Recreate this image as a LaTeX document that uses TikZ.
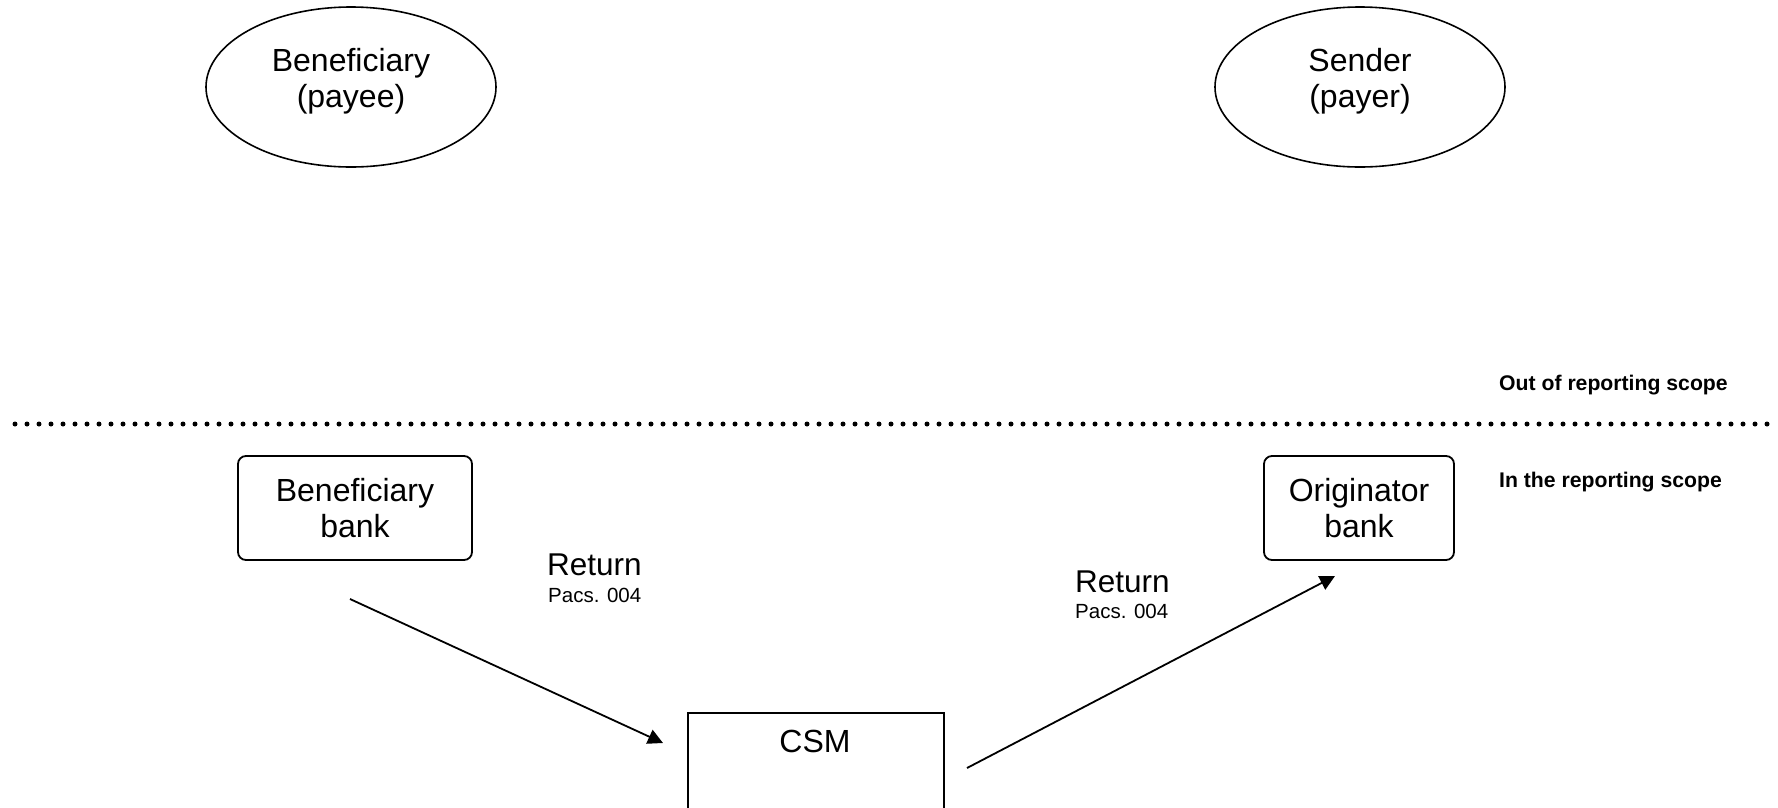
\documentclass[tikz,border=0pt]{standalone}
\usepackage{fontspec}
\setmainfont{Liberation Sans}
\usetikzlibrary{shapes.geometric,arrows.meta}
\begin{document}
\begin{tikzpicture}[x=1pt,y=-1pt,
  ell/.style={draw,ellipse,line width=1.6pt,minimum width=290pt,minimum height=160pt,inner sep=0pt},
  bankbox/.style={draw,rounded corners=8pt,line width=1.8pt,inner sep=0pt,font=\fontsize{32}{36}\selectfont,align=center},
  big/.style={font=\fontsize{32}{36}\selectfont,align=center,inner sep=0pt},
  ret/.style={font=\fontsize{31.5}{36}\selectfont,anchor=base west,inner sep=0pt},
  pacs/.style={font=\fontsize{20.5}{24}\selectfont,anchor=base west,inner sep=0pt},
  scopetxt/.style={font=\bfseries\fontsize{21.2}{25}\selectfont,anchor=base west,inner sep=0pt},
  flow/.style={line width=1.8pt,-{Triangle[length=15pt,width=15pt]}}
]
\useasboundingbox (0,0) rectangle (1778,807);
% ellipses
\node[ell] (ben) at (351,87) {};
\node[big] (bentxt) at (351,81) {Beneficiary\\(payee)};
\node[ell] (snd) at (1360,87) {};
\node[big] (sndtxt) at (1360,81) {Sender\\(payer)};
% scope line
\coordinate (lineL) at (15,424);
\coordinate (lineR) at (1778,424);
\draw[line width=5pt,line cap=round,dash pattern=on 0pt off 12pt] (lineL) -- (lineR);
\node[scopetxt] (outscope) at (1499,390) {Out of reporting scope};
\node[scopetxt] (inscope) at (1499,487) {In the reporting scope};
% banks
\node[bankbox,minimum width=234pt,minimum height=104pt] (bbank) at (355,508) {Beneficiary\\bank};
\node[bankbox,minimum width=190pt,minimum height=104pt] (obank) at (1359,508) {Originator\\bank};
% CSM
\node[draw,line width=1.8pt,minimum width=256pt,minimum height=130pt,anchor=north west,inner sep=0pt] (csm) at (687,712) {};
\node[big,anchor=base] (csmtxt) at (815,752) {CSM};
% arrows
\coordinate (a1s) at (350,599);
\coordinate (a1e) at (663,743);
\draw[flow] (a1s) -- (a1e);
\coordinate (a2s) at (967,768);
\coordinate (a2e) at (1335,576);
\draw[flow] (a2s) -- (a2e);
% labels
\node[ret] (ret1) at (547,575) {Return};
\node[pacs] (pacs1) at (548,602) {Pacs. 004};
\node[ret] (ret2) at (1075,592) {Return};
\node[pacs] (pacs2) at (1075,618) {Pacs. 004};
\end{tikzpicture}
\end{document}
